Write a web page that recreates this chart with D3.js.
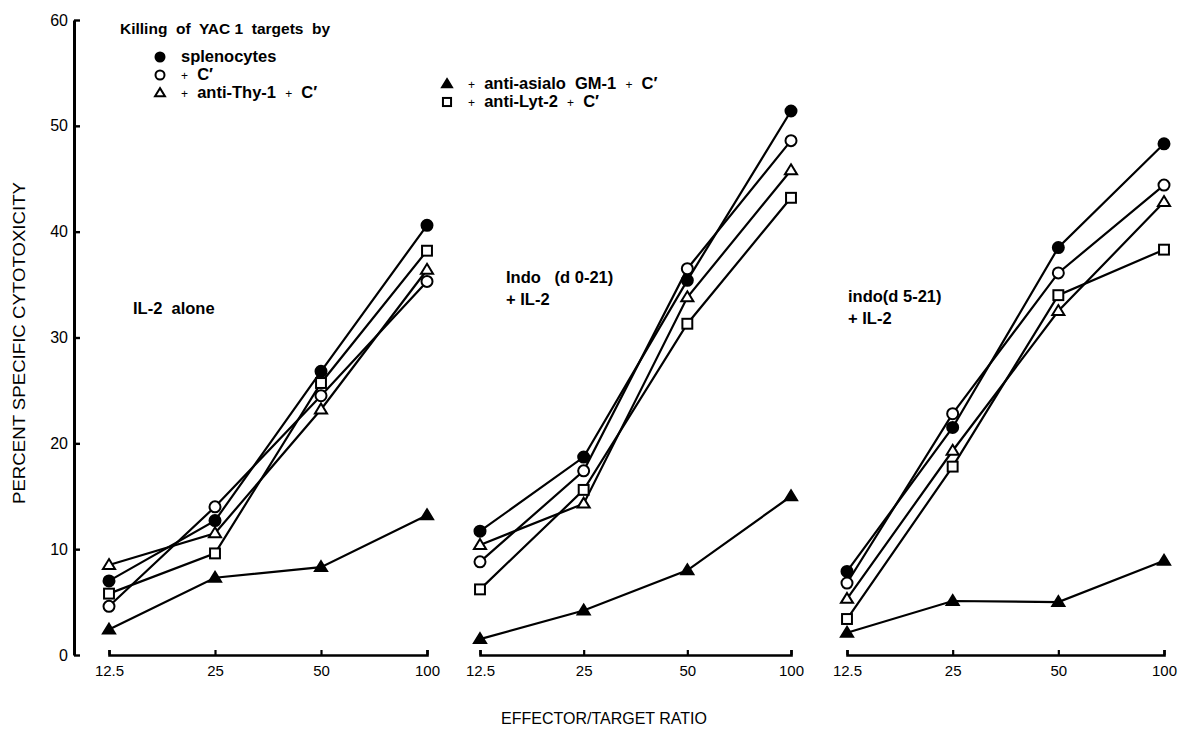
<!DOCTYPE html>
<html>
<head>
<meta charset="utf-8">
<script src="https://cdn.jsdelivr.net/npm/d3@7/dist/d3.min.js"></script>
<style>
  html, body { margin: 0; padding: 0; background: #fff; }
  svg { display: block; }
  text { font-family: "Liberation Sans", Arial, Helvetica, sans-serif; fill: #000; }
</style>
</head>
<body>
<svg id="chart" width="1182" height="735"></svg>
<script>
// ---- data ----
const ratios = ["12.5", "25", "50", "100"];
const yTicks = [0, 10, 20, 30, 40, 50, 60];
const panelLabels = [["IL-2  alone"], ["Indo   (d 0-21)", "+ IL-2"], ["indo(d 5-21)", "+ IL-2"]];
const seriesNames = ["splenocytes", "+ C\u2032", "+ anti-Thy-1 + C\u2032", "+ anti-asialo GM-1 + C\u2032", "+ anti-Lyt-2 + C\u2032"];
const seriesSymbols = ["filledCircle", "openCircle", "openTriangle", "filledTriangle", "openSquare"];
// values per panel: [IL-2 alone, Indo d0-21 + IL-2, indo d5-21 + IL-2]
const splenocytes   = [[7.0, 12.7, 26.8, 40.6], [11.7, 18.7, 35.4, 51.4], [7.9, 21.5, 38.5, 48.3]];
const plusC         = [[4.6, 14.0, 24.5, 35.3], [8.8, 17.4, 36.5, 48.6], [6.8, 22.8, 36.1, 44.4]];
const antiThy1      = [[8.5, 11.5, 23.2, 36.4], [10.4, 14.3, 33.8, 45.8], [5.3, 19.3, 32.5, 42.8]];
const antiAsialoGM1 = [[2.4, 7.3, 8.3, 13.2], [1.5, 4.2, 8.0, 15.0], [2.1, 5.1, 5.0, 8.9]];
const antiLyt2      = [[5.8, 9.6, 25.7, 38.2], [6.2, 15.6, 31.3, 43.2], [3.4, 17.8, 34.0, 38.3]];
const seriesValues = [splenocytes, plusC, antiThy1, antiAsialoGM1, antiLyt2];

// ---- layout ----
const svg = d3.select("#chart");
const y = d3.scaleLinear().domain([0, 60]).range([655, 20]);
const panelRanges = [[109, 427], [480, 791], [847, 1164]];
const xScales = panelRanges.map(r => d3.scalePoint().domain(ratios).range(r));

// y axis
const yAxisG = svg.append("g").attr("transform", "translate(74,0)")
  .call(d3.axisLeft(y).tickValues(yTicks).tickSize(-6).tickSizeOuter(0).tickPadding(6));
yAxisG.select(".domain").attr("stroke", "#000").attr("stroke-width", 3);
yAxisG.selectAll(".tick line").attr("stroke", "#000").attr("stroke-width", 2.4);
yAxisG.selectAll(".tick text").style("font-size", "16px").style("font-family", "Liberation Sans, Arial, sans-serif");

// x axes
xScales.forEach(x => {
  const g = svg.append("g").attr("transform", `translate(0,${y(0)})`)
    .call(d3.axisBottom(x).tickSize(-5).tickSizeOuter(-5).tickPadding(10));
  g.select(".domain").attr("stroke", "#000").attr("stroke-width", 2.6);
  g.selectAll(".tick line").attr("stroke", "#000").attr("stroke-width", 2.2);
  g.selectAll(".tick text").style("font-size", "15px").style("font-family", "Liberation Sans, Arial, sans-serif");
});

// symbols
function drawSymbol(g, type, cx, cy, s) {
  const filled = type.startsWith("filled");
  const fill = filled ? "#000" : "#fff";
  const sw = 2;
  if (type.endsWith("Circle")) {
    g.append("circle").attr("cx", cx).attr("cy", cy).attr("r", s * 0.5)
      .attr("fill", fill).attr("stroke", "#000").attr("stroke-width", sw);
  } else if (type.endsWith("Triangle")) {
    const h = s * 0.9, w = s * 1.1;
    g.append("path")
      .attr("d", `M${cx},${cy - h * 0.6}L${cx + w / 2},${cy + h * 0.4}L${cx - w / 2},${cy + h * 0.4}Z`)
      .attr("fill", fill).attr("stroke", "#000").attr("stroke-width", sw).attr("stroke-linejoin", "miter");
  } else {
    g.append("rect").attr("x", cx - s * 0.45).attr("y", cy - s * 0.45)
      .attr("width", s * 0.9).attr("height", s * 0.9)
      .attr("fill", fill).attr("stroke", "#000").attr("stroke-width", sw);
  }
}

// lines and markers
const line = d3.line();
xScales.forEach((x, p) => {
  const g = svg.append("g");
  seriesValues.forEach(vals => {
    g.append("path")
      .attr("d", line(ratios.map((r, i) => [x(r), y(vals[p][i])])))
      .attr("fill", "none").attr("stroke", "#000").attr("stroke-width", 2.2);
  });
  seriesValues.forEach((vals, s) => {
    ratios.forEach((r, i) => drawSymbol(g, seriesSymbols[s], x(r), y(vals[p][i]), 11));
  });
});

// panel labels
const panelLabelPos = [[133, 314], [506, 283], [848, 302]];
panelLabels.forEach((lines, p) => {
  lines.forEach((t, k) => {
    svg.append("text").attr("x", panelLabelPos[p][0]).attr("y", panelLabelPos[p][1] + k * 22)
      .style("font-size", "16.5px").style("font-weight", "bold")
      .style("white-space", "pre").text(t);
  });
});

// legend
svg.append("text").attr("x", 120).attr("y", 34)
  .style("font-size", "15.5px").style("font-weight", "bold").style("white-space", "pre")
  .text("Killing  of  YAC 1  targets  by");
const legendPos = [[160, 57], [160, 75], [160, 93], [447, 84], [447, 102]];
seriesNames.forEach((name, s) => {
  const [lx, ly] = legendPos[s];
  drawSymbol(svg, seriesSymbols[s], lx, ly, 9);
  const t = svg.append("text").attr("x", lx + 21).attr("y", ly + 5)
    .style("font-size", "16.5px").style("font-weight", "bold").style("white-space", "pre");
  const parts = name.split(/(\+)/);
  parts.forEach(part => {
    if (part === "+") t.append("tspan").style("font-weight", "normal").style("font-size", "12px").text("+");
    else t.append("tspan").text(part.replace(/ /g, "  "));
  });
});

// axis titles
svg.append("text").attr("transform", "translate(25,343) rotate(-90)")
  .attr("text-anchor", "middle").style("font-size", "17px")
  .attr("textLength", 322).attr("lengthAdjust", "spacingAndGlyphs")
  .text("PERCENT SPECIFIC CYTOTOXICITY");
svg.append("text").attr("x", 604).attr("y", 724).attr("text-anchor", "middle")
  .style("font-size", "16px").text("EFFECTOR/TARGET  RATIO");
</script>
</body>
</html>
